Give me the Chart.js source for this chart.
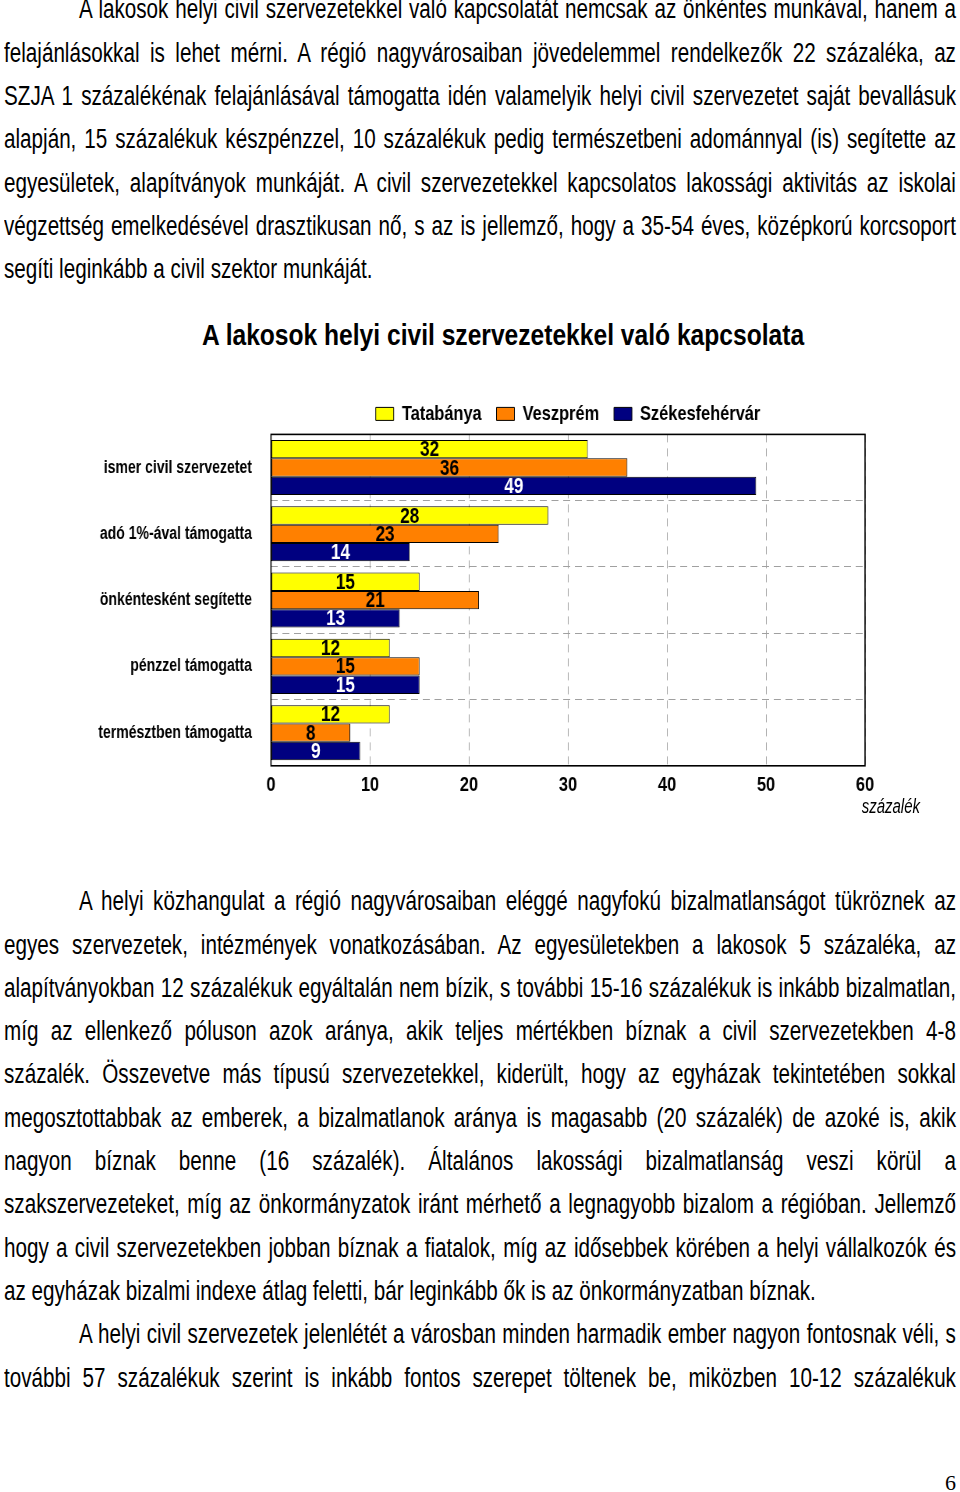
<!DOCTYPE html>
<html lang="hu">
<head>
<meta charset="utf-8">
<title>A lakosok helyi civil szervezetekkel való kapcsolata</title>
<script src="https://cdn.jsdelivr.net/npm/chart.js@4/dist/chart.umd.min.js"></script>
<style>
  html, body { margin: 0; padding: 0; background: #fff; }
  body {
    width: 960px; height: 1492px; position: relative; overflow: hidden;
    font-family: "Liberation Sans", Arial, sans-serif;
    color: #000;
  }
  /* narrow look: Liberation Sans squeezed horizontally */
  .para {
    position: absolute; left: 4px; width: 1244.4px; font-size: 27px;
    transform: scaleX(0.765); transform-origin: 0 0;
  }
  .para div {
    height: 43.3px; line-height: 43.3px; white-space: nowrap;
    text-align: justify; text-align-last: justify;
  }
  .para div.indent { text-indent: 98px; }
  .para div.last { text-align-last: left; }
  #title {
    position: absolute; left: 503px; top: 317px; white-space: nowrap;
    font-size: 30px; font-weight: bold; line-height: 36px;
    transform: translateX(-50%) scaleX(0.82);
  }
  /* the chart is drawn wider and squeezed to 960px, so its text gets the same narrow look */
  #chartBox {
    position: absolute; left: 0; top: 300px; width: 1231px; height: 505px;
    transform: scaleX(0.78); transform-origin: 0 0;
  }
  #unit {
    position: absolute; left: 920px; top: 794px; white-space: nowrap;
    font-size: 20px; line-height: 24px; font-style: italic;
    transform: translateX(-100%) scaleX(0.75); transform-origin: 100% 0;
  }
  #pageno { position: absolute; right: 4px; top: 1470px; font-family: "Liberation Serif", "DejaVu Serif", serif; font-size: 22px; }
</style>
</head>
<body>

<div class="para" style="top:-11.6px">
  <div class="indent">A lakosok helyi civil szervezetekkel való kapcsolatát nemcsak az önkéntes munkával, hanem a</div>
  <div>felajánlásokkal is lehet mérni. A régió nagyvárosaiban jövedelemmel rendelkezők 22 százaléka, az</div>
  <div>SZJA 1 százalékénak felajánlásával támogatta idén valamelyik helyi civil szervezetet saját bevallásuk</div>
  <div>alapján, 15 százalékuk készpénzzel, 10 százalékuk pedig természetbeni adománnyal (is) segítette az</div>
  <div>egyesületek, alapítványok munkáját. A civil szervezetekkel kapcsolatos lakossági aktivitás az iskolai</div>
  <div>végzettség emelkedésével drasztikusan nő, s az is jellemző, hogy a 35-54 éves, középkorú korcsoport</div>
  <div class="last">segíti leginkább a civil szektor munkáját.</div>
</div>

<div id="title">A lakosok helyi civil szervezetekkel való kapcsolata</div>
<div id="chartBox"><canvas id="graph"></canvas></div>
<span id="unit">százalék</span>

<div class="para" style="top:880.3px">
  <div class="indent">A helyi közhangulat a régió nagyvárosaiban eléggé nagyfokú bizalmatlanságot tükröznek az</div>
  <div>egyes szervezetek, intézmények vonatkozásában. Az egyesületekben a lakosok 5 százaléka, az</div>
  <div>alapítványokban 12 százalékuk egyáltalán nem bízik, s további 15-16 százalékuk is inkább bizalmatlan,</div>
  <div>míg az ellenkező póluson azok aránya, akik teljes mértékben bíznak a civil szervezetekben 4-8</div>
  <div>százalék. Összevetve más típusú szervezetekkel, kiderült, hogy az egyházak tekintetében sokkal</div>
  <div>megosztottabbak az emberek, a bizalmatlanok aránya is magasabb (20 százalék) de azoké is, akik</div>
  <div>nagyon bíznak benne (16 százalék). Általános lakossági bizalmatlanság veszi körül a</div>
  <div>szakszervezeteket, míg az önkormányzatok iránt mérhető a legnagyobb bizalom a régióban. Jellemző</div>
  <div>hogy a civil szervezetekben jobban bíznak a fiatalok, míg az idősebbek körében a helyi vállalkozók és</div>
  <div class="last">az egyházak bizalmi indexe átlag feletti, bár leginkább ők is az önkormányzatban bíznak.</div>
  <div class="indent">A helyi civil szervezetek jelenlétét a városban minden harmadik ember nagyon fontosnak véli, s</div>
  <div>további 57 százalékuk szerint is inkább fontos szerepet töltenek be, miközben 10-12 százalékuk</div>
</div>

<div id="pageno">6</div>

<script>
const categories = ['ismer civil szervezetet', 'adó 1%-ával támogatta', 'önkéntesként segítette', 'pénzzel támogatta', 'természtben támogatta'];
const tatabanya = [32, 28, 15, 12, 12];
const veszprem = [36, 23, 21, 15, 8];
const szekesfehervar = [49, 14, 13, 15, 9];
const xTicks = [0, 10, 20, 30, 40, 50, 60];

const fontFamily = "'Liberation Sans', Arial, sans-serif";

// value labels centred inside each bar
const barLabels = {
    id: 'barLabels',
    afterDatasetsDraw(chart) {
        const ctx = chart.ctx;
        ctx.save();
        ctx.font = 'bold 22px ' + fontFamily;
        ctx.textAlign = 'center';
        ctx.textBaseline = 'middle';
        chart.data.datasets.forEach((ds, i) => {
            const meta = chart.getDatasetMeta(i);
            ctx.fillStyle = ds.labelColor;
            meta.data.forEach((bar, j) => {
                const x = (bar.base + bar.x) / 2;
                ctx.fillText(ds.data[j], x, bar.y + 1);
            });
        });
        ctx.restore();
    }
};

// black frame round the plot area
const plotFrame = {
    id: 'plotFrame',
    afterDraw(chart) {
        const a = chart.chartArea;
        const ctx = chart.ctx;
        ctx.save();
        ctx.strokeStyle = '#000';
        ctx.lineWidth = 1.6;
        ctx.strokeRect(a.left, a.top, a.right - a.left, a.bottom - a.top);
        ctx.restore();
    }
};

const canvas = document.getElementById('graph').getContext('2d');
new Chart(canvas, {
    type: 'bar',
    data: {
        labels: categories,
        datasets: [
            { label: 'Tatabánya', data: tatabanya, backgroundColor: '#ffff00', labelColor: '#000' },
            { label: 'Veszprém', data: veszprem, backgroundColor: '#ff8000', labelColor: '#000' },
            { label: 'Székesfehérvár', data: szekesfehervar, backgroundColor: '#000080', labelColor: '#fff' }
        ].map(ds => Object.assign(ds, {
            borderColor: '#000',
            borderWidth: 1,
            borderSkipped: false,
            categoryPercentage: 0.83,
            barPercentage: 1.0
        }))
    },
    options: {
        indexAxis: 'y',
        responsive: true,
        maintainAspectRatio: false,
        animation: false,
        layout: { padding: { top: 84.4, left: 0, right: 122, bottom: 0 } },
        plugins: {
            legend: {
                position: 'top',
                fullSize: false,
                labels: {
                    color: '#000',
                    boxWidth: 23,
                    boxHeight: 13,
                    padding: 19,
                    font: { family: fontFamily, size: 21, weight: 'bold', lineHeight: 1.2 }
                }
            },
            tooltip: { enabled: false }
        },
        scales: {
            x: {
                min: 0,
                max: 60,
                afterBuildTicks: (scale) => { scale.ticks = xTicks.map(v => ({ value: v })); },
                ticks: {
                    color: '#000',
                    padding: 7,
                    font: { family: fontFamily, size: 21, weight: 'bold' }
                },
                grid: { color: '#a0a0a0', drawTicks: false },
                border: { display: false, dash: [8, 6] }
            },
            y: {
                afterFit: (scale) => { scale.width = 347.4; },
                ticks: {
                    color: '#000',
                    padding: 24.4,
                    font: { family: fontFamily, size: 18, weight: 'bold' }
                },
                grid: { color: '#a0a0a0', drawTicks: false, offset: true },
                border: { display: false, dash: [9, 6] }
            }
        }
    },
    plugins: [barLabels, plotFrame]
});
</script>
</body>
</html>
